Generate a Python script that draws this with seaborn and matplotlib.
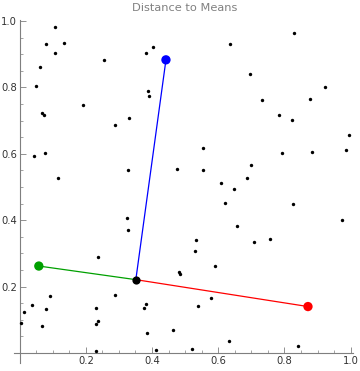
import numpy as np
import pandas as pd
import matplotlib
matplotlib.use("Agg")
import matplotlib.pyplot as plt
import seaborn as sns
from matplotlib.ticker import MultipleLocator, FixedLocator

# random sample points
pts_x = [0.107, 0.079, 0.133, 0.106, 0.061, 0.049, 0.191, 0.067, 0.074, 0.254,
         0.381, 0.402, 0.387, 0.390, 0.330, 0.288, 0.043, 0.076, 0.115, 0.327,
         0.475,
         0.829, 0.635, 0.695, 0.922, 0.733, 0.877, 0.784, 0.822, 0.995, 0.553,
         0.792, 0.884, 0.985, 0.698, 0.553, 0.687,
         0.324, 0.327, 0.236, 0.480, 0.484, 0.004, 0.013, 0.037, 0.091, 0.079,
         0.067, 0.230, 0.236, 0.231, 0.230, 0.288, 0.375, 0.381, 0.385, 0.411,
         0.463,
         0.608, 0.647, 0.620, 0.826, 0.973, 0.657, 0.532, 0.529, 0.708, 0.756,
         0.590, 0.578, 0.538, 0.633, 0.520, 0.840]
pts_y = [0.983, 0.930, 0.935, 0.903, 0.862, 0.805, 0.748, 0.722, 0.718, 0.883,
         0.903, 0.923, 0.788, 0.775, 0.709, 0.688, 0.592, 0.603, 0.528, 0.552,
         0.553,
         0.965, 0.932, 0.841, 0.802, 0.763, 0.766, 0.718, 0.703, 0.658, 0.618,
         0.603, 0.606, 0.612, 0.567, 0.552, 0.528,
         0.408, 0.371, 0.290, 0.243, 0.239, 0.089, 0.124, 0.145, 0.173, 0.134,
         0.082, 0.137, 0.097, 0.087, 0.007, 0.176, 0.136, 0.148, 0.061, 0.010,
         0.070,
         0.513, 0.495, 0.453, 0.450, 0.402, 0.383, 0.341, 0.308, 0.335, 0.344,
         0.263, 0.167, 0.143, 0.037, 0.013, 0.022]

# the mean point and the three cluster means
center = (0.351, 0.221)
means_x = [0.442, 0.058, 0.871]
means_y = [0.883, 0.262, 0.140]
means_col = ["#0000ff", "#00a000", "#ff0000"]

title = "Distance to Means"

sns.set_style("white")
plt.rcParams['font.family'] = ['DejaVu Sans']

fig = plt.figure(figsize=(3.6, 3.71), dpi=100)
ax = fig.add_axes([14/360, 8/371, (353-14)/360, (363-20)/371])

# lines from center to each mean
for mx, my, c in zip(means_x, means_y, means_col):
    ax.plot([center[0], mx], [center[1], my], color=c, lw=0.9, zorder=2,
            solid_capstyle='butt')

df = pd.DataFrame({"x": pts_x, "y": pts_y})
sns.scatterplot(data=df, x="x", y="y", ax=ax, color="black", s=6,
                linewidth=0, zorder=3)
mdf = pd.DataFrame({"x": means_x, "y": means_y, "c": means_col})
sns.scatterplot(data=mdf, x="x", y="y", hue="c", palette=dict(zip(means_col, means_col)),
                ax=ax, s=45, linewidth=0, zorder=4, legend=False)
sns.scatterplot(x=[center[0]], y=[center[1]], ax=ax, color="black", s=35,
                linewidth=0, zorder=5)

ax.set_xlim(-0.017, 1.007)
ax.set_ylim(-0.03, 1.003)
ax.set_xlabel("")
ax.set_ylabel("")

for s in ["top", "right"]:
    ax.spines[s].set_visible(False)
ax.spines["left"].set_position(("data", 0))
ax.spines["bottom"].set_position(("data", 0))
for s in ["left", "bottom"]:
    ax.spines[s].set_color("#7f7f7f")
    ax.spines[s].set_linewidth(0.8)

ax.xaxis.set_major_locator(FixedLocator([0.2, 0.4, 0.6, 0.8, 1.0]))
ax.yaxis.set_major_locator(FixedLocator([0.2, 0.4, 0.6, 0.8, 1.0]))
minor = [i * 0.05 for i in range(0, 21) if i % 4 != 0] + [0.0]
ax.xaxis.set_minor_locator(FixedLocator(minor))
ax.yaxis.set_minor_locator(FixedLocator(minor))
ax.tick_params(which="major", direction="in", length=4, width=0.6, color="#7f7f7f",
               labelsize=7.2, labelcolor="#333333", pad=2)
ax.tick_params(which="minor", direction="in", length=2.3, width=0.5, color="#7f7f7f")
ax.tick_params(axis="y", which="both", left=True)
ax.tick_params(axis="x", which="both", bottom=True)
ax.set_xticklabels(["0.2", "0.4", "0.6", "0.8", "1.0"])
ax.set_yticklabels(["0.2", "0.4", "0.6", "0.8", "1.0"])

fig.text(185/360, 1 - 8/371, title, ha="center", va="center",
         fontsize=8.2, color="#808080")

fig.savefig("out.png", dpi=100)
